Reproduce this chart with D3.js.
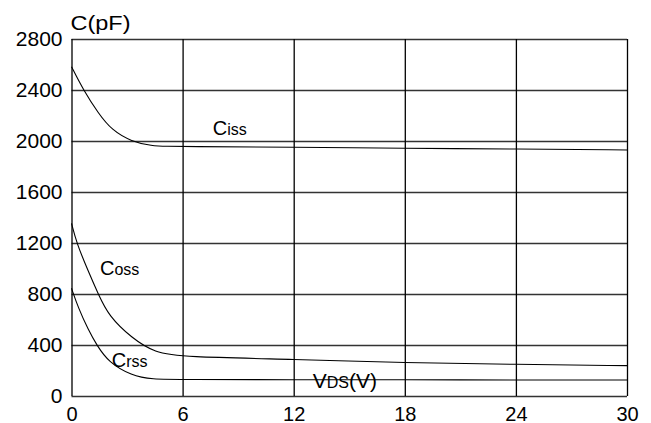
<!DOCTYPE html>
<html>
<head>
<meta charset="utf-8">
<script src="https://cdn.jsdelivr.net/npm/d3@7"></script>
<style>
  html, body { margin: 0; padding: 0; background: #fff; }
  svg { display: block; font-family: Arial, "Liberation Sans", sans-serif; }
</style>
</head>
<body>
<svg id="chart" width="651" height="423"></svg>
<script>
// tick values
var xTicks = [0, 6, 12, 18, 24, 30];
var yTicks = [0, 400, 800, 1200, 1600, 2000, 2400, 2800];

// curves (VDS in V, C in pF)
var cissV = [0, 0.64, 1.45, 2.17, 3.25, 4.33, 5.2, 6, 12, 18, 24, 30];
var cissC = [2583, 2400, 2217, 2086, 1995, 1962, 1958, 1956, 1951, 1943, 1937, 1930];

var cossV = [0, 0.28, 0.9, 1.45, 2, 3.25, 4.5, 6, 12, 18, 24, 30];
var cossC = [1354, 1198, 980, 798, 630, 455, 340, 306, 288, 261, 248, 238];

var crssV = [0, 0.37, 0.91, 1.36, 2, 3.25, 4.33, 6, 12, 18, 24, 30];
var crssC = [845, 690, 518, 400, 265, 160, 130, 129, 128, 127, 126, 125];

// curve labels: [main, subscript, V, C]
var labels = [
    ["C", "iss", 7.63, 2047],
    ["C", "oss", 1.54, 949],
    ["C", "rss", 2.17, 230]
];

var margins = {top: 39, left: 71.5, right: 24, bottom: 27};
var width = 651 - margins.left - margins.right,
    height = 423 - margins.top - margins.bottom;

var svg = d3.select("#chart");

var x = d3.scaleLinear().domain([0, 30]).range([margins.left, margins.left + width]);
var y = d3.scaleLinear().domain([0, 2800]).range([margins.top + height, margins.top]);

// horizontal grid + y labels
var yAxis = svg.append("g")
    .attr("transform", "translate(" + margins.left + ",0)")
    .call(d3.axisLeft(y).tickValues(yTicks).tickSize(-width).tickPadding(9).tickFormat(d3.format("d")));
yAxis.select(".domain").remove();
yAxis.selectAll(".tick line").attr("stroke", "#333").attr("stroke-width", 1.3);
yAxis.selectAll(".tick text").attr("font-size", 21).attr("fill", "#000")
    .attr("font-family", "Arial, 'Liberation Sans', sans-serif");

// vertical grid + x labels
var xAxis = svg.append("g")
    .attr("transform", "translate(0," + (margins.top + height) + ")")
    .call(d3.axisBottom(x).tickValues(xTicks).tickSize(-height).tickPadding(11));
xAxis.select(".domain").remove();
xAxis.selectAll(".tick line").attr("stroke", "#000").attr("stroke-width", 1.3);
xAxis.selectAll(".tick text").attr("font-size", 20).attr("fill", "#000")
    .attr("font-family", "Arial, 'Liberation Sans', sans-serif");

// curves
var line = d3.line()
    .x(function(d) { return x(d[0]); })
    .y(function(d) { return y(d[1]); })
    .curve(d3.curveBasis);

[[cissV, cissC], [cossV, cossC], [crssV, crssC]].forEach(function(s) {
    var pts = s[0].map(function(v, i) { return [v, s[1][i]]; });
    svg.append("path")
        .datum(pts)
        .attr("fill", "none")
        .attr("stroke", "#000")
        .attr("stroke-width", 1.1)
        .attr("d", line);
});

// curve labels
labels.forEach(function(l) {
    var t = svg.append("text")
        .attr("x", x(l[2]))
        .attr("y", y(l[3]))
        .attr("font-size", 20);
    t.append("tspan").text(l[0]);
    t.append("tspan").attr("font-size", 16).text(l[1]);
});

// axis titles
svg.append("text")
    .attr("x", x(0) - 1)
    .attr("y", 30)
    .attr("font-size", 21)
    .attr("textLength", 60)
    .attr("lengthAdjust", "spacingAndGlyphs")
    .text("C(pF)");

var vds = svg.append("text")
    .attr("x", x(13.03))
    .attr("y", y(63))
    .attr("font-size", 21);
vds.append("tspan").text("V");
vds.append("tspan").attr("font-size", 16).text("DS");
vds.append("tspan").text("(V)");
</script>
</body>
</html>
